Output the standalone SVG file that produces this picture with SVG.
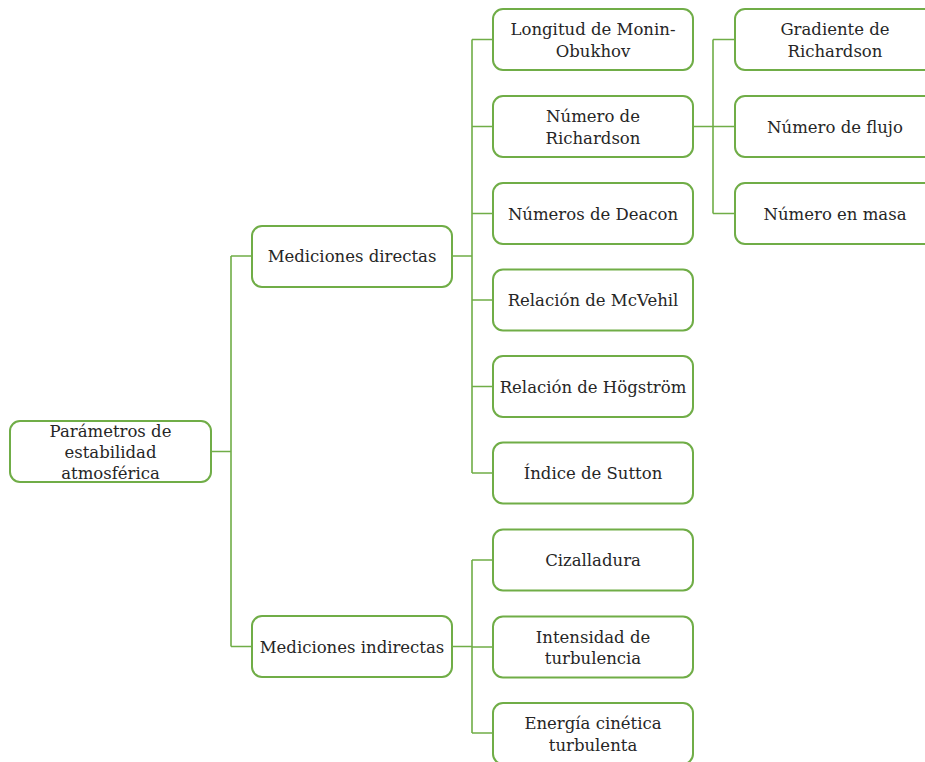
<svg xmlns="http://www.w3.org/2000/svg" width="925" height="762" viewBox="0 0 925 762">
  <style>
    .box { fill: #ffffff; stroke: #70ad47; stroke-width: 2; }
    .link { fill: none; stroke: #70ad47; stroke-width: 1.6; }
    .label { font-family: "DejaVu Serif", "Liberation Serif", serif; font-size: 16.5px; fill: #262626; text-anchor: middle; }
  </style>

  <!-- connectors -->
  <g id="connectors">
    <!-- root to level 1 -->
    <path class="link" d="M211 451.5 H231 M231 256 V646.5 M231 256 H252 M231 646.5 H252"/>
    <!-- Mediciones directas to children -->
    <path class="link" d="M452 256 H472 M472 39.5 V473 M472 39.5 H493 M472 126.5 H493 M472 213.5 H493 M472 300 H493 M472 386.5 H493 M472 473 H493"/>
    <!-- Número de Richardson to children -->
    <path class="link" d="M693 126.5 H713 M713 39.5 V213.5 M713 39.5 H735 M713 126.5 H735 M713 213.5 H735"/>
    <!-- Mediciones indirectas to children -->
    <path class="link" d="M452 646.5 H472 M472 560 V733 M472 560 H493 M472 647 H493 M472 733 H493"/>
  </g>

  <!-- root -->
  <g id="n-root">
    <rect class="box" x="10" y="421" width="201" height="61" rx="10"/>
    <text class="label" x="110.5" y="437">Parámetros de</text>
    <text class="label" x="110.5" y="458">estabilidad</text>
    <text class="label" x="110.5" y="479">atmosférica</text>
  </g>

  <!-- level 1 -->
  <g id="n-directas">
    <rect class="box" x="252" y="226" width="200" height="61" rx="10"/>
    <text class="label" x="352" y="262">Mediciones directas</text>
  </g>
  <g id="n-indirectas">
    <rect class="box" x="252" y="616" width="200" height="61" rx="10"/>
    <text class="label" x="352" y="652.5">Mediciones indirectas</text>
  </g>

  <!-- level 2: direct measurements -->
  <g id="n-monin">
    <rect class="box" x="493" y="9" width="200" height="61" rx="10"/>
    <text class="label" x="593" y="35">Longitud de Monin-</text>
    <text class="label" x="593" y="56.5">Obukhov</text>
  </g>
  <g id="n-richardson">
    <rect class="box" x="493" y="96" width="200" height="61" rx="10"/>
    <text class="label" x="593" y="122">Número de</text>
    <text class="label" x="593" y="143.5">Richardson</text>
  </g>
  <g id="n-deacon">
    <rect class="box" x="493" y="183" width="200" height="61" rx="10"/>
    <text class="label" x="593" y="219.5">Números de Deacon</text>
  </g>
  <g id="n-mcvehil">
    <rect class="box" x="493" y="269.5" width="200" height="61" rx="10"/>
    <text class="label" x="593" y="306">Relación de McVehil</text>
  </g>
  <g id="n-hogstrom">
    <rect class="box" x="493" y="356" width="200" height="61" rx="10"/>
    <text class="label" x="593" y="392.5">Relación de Högström</text>
  </g>
  <g id="n-sutton">
    <rect class="box" x="493" y="442.5" width="200" height="61" rx="10"/>
    <text class="label" x="593" y="479">Índice de Sutton</text>
  </g>

  <!-- level 3: Richardson variants -->
  <g id="n-gradiente">
    <rect class="box" x="735" y="9" width="200" height="61" rx="10"/>
    <text class="label" x="835" y="35">Gradiente de</text>
    <text class="label" x="835" y="56.5">Richardson</text>
  </g>
  <g id="n-flujo">
    <rect class="box" x="735" y="96" width="200" height="61" rx="10"/>
    <text class="label" x="835" y="132.5">Número de flujo</text>
  </g>
  <g id="n-masa">
    <rect class="box" x="735" y="183" width="200" height="61" rx="10"/>
    <text class="label" x="835" y="219.5">Número en masa</text>
  </g>

  <!-- level 2: indirect measurements -->
  <g id="n-cizalladura">
    <rect class="box" x="493" y="529.5" width="200" height="61" rx="10"/>
    <text class="label" x="593" y="566">Cizalladura</text>
  </g>
  <g id="n-intensidad">
    <rect class="box" x="493" y="616.5" width="200" height="61" rx="10"/>
    <text class="label" x="593" y="642.5">Intensidad de</text>
    <text class="label" x="593" y="664">turbulencia</text>
  </g>
  <g id="n-energia">
    <rect class="box" x="493" y="703" width="200" height="61" rx="10"/>
    <text class="label" x="593" y="729">Energía cinética</text>
    <text class="label" x="593" y="750.5">turbulenta</text>
  </g>
</svg>
